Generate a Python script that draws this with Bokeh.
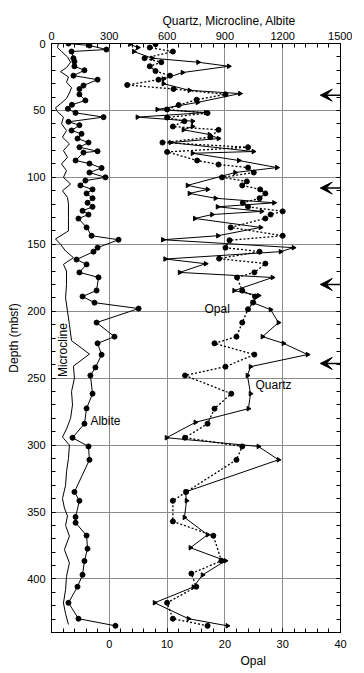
import numpy as np
from bokeh.plotting import figure
from bokeh.models import (Range1d, LinearAxis, FixedTicker, Label, Arrow, VeeHead,
                          CustomJSTickFormatter, Title)
from bokeh.embed import file_html
from bokeh.resources import INLINE

# ---------------- data ----------------
microcline_depth = [0, 3, 6, 10, 14, 18, 21, 25, 29, 33, 37, 41, 45, 48, 51, 55, 60, 65, 70, 75,
                    80, 85, 90, 95, 100, 105, 110, 115, 120, 130, 140, 146, 150, 155, 160, 165,
                    170, 180, 190, 200, 210, 222, 232, 241, 250, 260, 270, 280, 288, 294, 300,
                    310, 320, 330, 340, 347, 353, 360, 368, 378, 388, 398, 408, 418, 426, 434]
microcline_val = [36, 31, 52, 83, 99, 78, 47, 88, 78, 104, 93, 78, 47, 21, 31, 62, 52, 78, 57, 93,
                  62, 83, 52, 78, 62, 99, 57, 83, 88, 88, 88, 21, 47, 73, 114, 62,
                  78, 78, 73, 83, 93, 104, 197, 114, 119, 104, 109, 99, 78, 57, 93,
                  88, 78, 73, 57, 67, 83, 73, 93, 67, 93, 78, 73, 62, 73, 88]

albite_depth = [0, 1.5, 4.5, 6, 11, 13.5, 17, 20, 24, 27, 31.4, 34, 38, 42.5, 45.8, 48.8, 51.8,
                55, 58.5, 61, 65, 67.5, 71, 74, 77.5, 80.5, 81.5, 87.4, 89.7, 93, 96.4, 100,
                102.4, 106, 109, 112, 115.6, 119, 122, 125, 127.8, 130.8, 137.4, 143.6, 146.6,
                152.5, 155.5, 161.4, 165, 171, 174.7, 184.5, 189, 193.6, 198, 208.5, 219, 224,
                232.5, 242, 248, 261.6, 272.6, 284, 294.5, 301, 311, 335, 341.6, 353.7, 358,
                367.6, 377.4, 386.6, 396.9, 405.8, 417.8, 429.7, 435]
albite_val = [88, 197, 285, 104, 114, 119, 119, 171, 114, 239, 166, 145, 145, 176, 106, 85, 125,
              270, 88, 145, 104, 156, 135, 192, 145, 239, 166, 125, 197, 260, 197, 280,
              176, 150, 213, 182, 213, 187, 213, 161, 192, 140, 182, 208, 348,
              239, 218, 130, 182, 145, 244, 234, 161, 223, 452, 234, 327, 239,
              260, 228, 202, 213, 182, 171, 109, 192, 197, 119, 145, 125, 125,
              182, 187, 171, 161, 135, 88, 140, 332]

quartz_depth = [0.5, 3, 6, 11, 14, 17, 21.7, 26.5, 30, 35, 37.4, 44, 49.3, 51.6, 55, 58, 62,
                64.5, 68, 71, 74, 80.7, 82, 87.4, 92.7, 96.4, 106, 109, 112, 115.6, 119, 122,
                125.4, 127.8, 130.7, 137.4, 143.6, 146.6, 152.5, 155.5, 161, 164.5, 171, 174.8,
                184.6, 188.3, 193.5, 198.8, 208.5, 219, 224, 232.4, 241.4, 248, 261.6, 272.8,
                283, 294.5, 301, 311, 335, 341.6, 354, 367, 376.7, 386.4, 397, 406, 417.8,
                429.7, 435]
quartz_val = [407, 448, 427, 523, 761, 920, 680, 581, 581, 716, 978, 758, 549, 800, 446, 732, 732,
              685, 820, 867, 618, 1048, 732, 972, 1170, 953, 706, 810, 716, 851, 1155, 862,
              1090, 833, 744, 1085, 864, 578, 1256, 1189, 590, 800, 665, 1147,
              948, 1075, 1043, 1137, 1178, 1095, 1204, 1329, 1033, 1017, 1033, 1022,
              747, 597, 1074, 1178, 695, 701, 690, 810, 721, 903, 784, 737, 535,
              711, 913]

opal_depth = [0.5, 3, 6, 11, 14, 17, 20.6, 24, 27, 31, 34, 38, 42, 46, 49.3, 52, 55.3, 58, 62,
              64.5, 70, 74, 77.5, 81, 87.4, 90.4, 92.7, 96.4, 100, 103, 106, 109, 112, 115.6,
              119, 122, 125.4, 127.8, 130.7, 137.4, 143.6, 147, 152.5, 155.5, 160.7, 164.4,
              171, 174.8, 184.6, 189, 193.5, 198.5, 208.5, 219, 224, 232.4, 241.4, 248, 261.6,
              272.8, 284, 294.5, 301, 311, 335, 341.6, 357, 367.7, 386.4, 396, 405.8, 417.8,
              429.7, 435]
opal_val = [8.0, 7.0, 11.0, 6.1, 9.0, 7.0, 8.0, 10.5, 8.5, 3.1, 11.1, 20.1, 15.1, 12.0, 10.0,
            17.0, 10.0, 13.0, 11.0, 18.9, 17.5, 9.2, 24.0, 10.0, 15.2, 18.9, 24.0, 25.0, 19.5,
            23.8, 23.0, 26.1, 27.0, 26.0, 23.1, 24.0, 30.0, 27.9, 27.0, 21.0, 30.0, 20.8, 20.1,
            26.0, 19.0, 27.0, 25.1, 22.1, 23.0, 25.2, 24.9, 24.0, 23.0, 22.0, 18.2, 25.1, 20.1,
            13.1, 21.1, 18.2, 17.0, 13.1, 23.0, 22.0, 13.3, 11.0, 11.0, 18.0, 19.4, 14.2, 15.05,
            10.0, 11.0, 17.0]

arrow_depths = [38.6, 108, 180, 239]

top_ticks = [0, 300, 600, 900, 1200, 1500]
top_minor = list(range(0, 1501, 60))
opal_ticks = [0, 10, 20, 30, 40]
opal_minor = list(range(-10, 41, 2))
depth_ticks = [0, 50, 100, 150, 200, 250, 300, 350, 400]
depth_minor = list(range(0, 441, 10))

FONT = "Liberation Sans"

# ---------------- figure ----------------
p = figure(frame_width=289, frame_height=589,
           x_range=Range1d(0, 1500), y_range=Range1d(440, 0),
           x_axis_location="above",
           output_backend="svg", toolbar_location=None,
           min_border_left=51, min_border_right=12, min_border_top=43, min_border_bottom=36,
           background_fill_color="white", border_fill_color="white")
p.extra_x_ranges = {"opal": Range1d(-10, 40)}
p.outline_line_color = "black"
p.outline_line_width = 1


def style_axis(ax, ticks, minor, standoff):
    ax.ticker = FixedTicker(ticks=ticks, minor_ticks=minor)
    ax.major_tick_in = 4
    ax.major_tick_out = 0
    ax.minor_tick_in = 4
    ax.minor_tick_out = 0
    ax.axis_line_color = "black"
    ax.major_tick_line_color = "black"
    ax.minor_tick_line_color = "black"
    ax.major_label_text_font = FONT
    ax.major_label_text_font_size = "11px"
    ax.major_label_text_color = "black"
    ax.major_label_standoff = standoff
    ax.axis_label_text_font = FONT
    ax.axis_label_text_font_size = "12px"
    ax.axis_label_text_font_style = "normal"
    ax.axis_label_text_color = "black"


# top axis
style_axis(p.xaxis[0], top_ticks, top_minor, 4)

# left axis
style_axis(p.yaxis[0], depth_ticks, depth_minor, 6)
p.yaxis[0].axis_label = "Depth (mbsf)"
p.yaxis[0].axis_label_standoff = 3

# bottom opal axis
bottom = LinearAxis(x_range_name="opal")
style_axis(bottom, opal_ticks, opal_minor, 7)
p.add_layout(bottom, "below")

# right axis without labels
right = LinearAxis()
style_axis(right, depth_ticks, depth_minor, 2)
right.formatter = CustomJSTickFormatter(code="return ''")
p.add_layout(right, "right")

# axis titles, placed off-centre like the original
p.add_layout(Title(text="Quartz, Microcline, Albite", align="left", offset=111,
                   text_font=FONT, text_font_size="12px", text_font_style="normal",
                   text_color="black", standoff=2), "above")
p.add_layout(Title(text="Opal", align="left", offset=189,
                   text_font=FONT, text_font_size="12px", text_font_style="normal",
                   text_color="black", standoff=2), "below")

# grid
p.xgrid.ticker = FixedTicker(ticks=top_ticks)
p.ygrid.ticker = FixedTicker(ticks=depth_ticks)
p.xgrid.grid_line_color = "#8c8c8c"
p.ygrid.grid_line_color = "#8c8c8c"
p.xgrid.grid_line_width = 1
p.ygrid.grid_line_width = 1

# ---------------- series ----------------
p.line(microcline_val, microcline_depth, line_color="black", line_width=1)

p.line(albite_val, albite_depth, line_color="black", line_width=1)
p.scatter(albite_val, albite_depth, marker="circle", size=5, color="black")

p.line(opal_val, opal_depth, x_range_name="opal", line_color="black", line_width=1.3,
       line_dash="2 2")
p.scatter(opal_val, opal_depth, x_range_name="opal", marker="circle", size=5, color="black")

p.line(quartz_val, quartz_depth, line_color="black", line_width=1)
p.scatter(quartz_val, quartz_depth, marker="triangle", angle=-np.pi / 2, size=4.5, color="black")

# arrows on right side
for d in arrow_depths:
    p.add_layout(Arrow(x_start=1510, y_start=d, x_end=1395, y_end=d,
                       line_color="black", line_width=1.5,
                       end=VeeHead(size=12, fill_color="black", line_color="black")))

# series labels
lab_kw = dict(text_font=FONT, text_font_size="12px", text_color="black")
p.add_layout(Label(x=794, y=198, text="Opal", text_align="left", text_baseline="middle", **lab_kw))
p.add_layout(Label(x=1059, y=255, text="Quartz", text_align="left", text_baseline="middle", **lab_kw))
p.add_layout(Label(x=202, y=282, text="Albite", text_align="left", text_baseline="middle", **lab_kw))
p.add_layout(Label(x=60, y=229, text="Microcline", angle=np.pi / 2, text_align="center",
                   text_baseline="middle", **lab_kw))

open("out.html", "w").write(file_html(p, INLINE))
